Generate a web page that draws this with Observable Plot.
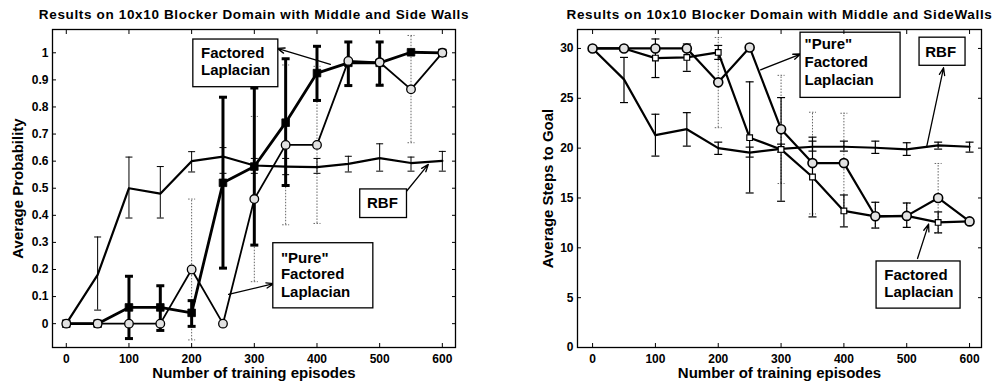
<!DOCTYPE html>
<html><head><meta charset="utf-8">
<script src="https://cdn.jsdelivr.net/npm/d3@7"></script>
<script src="https://cdn.jsdelivr.net/npm/@observablehq/plot@0.6"></script>
<style>
html,body{margin:0;padding:0;background:#fff;}
#wrap{display:flex;width:996px;height:384px;overflow:hidden;}
</style></head><body><div id="wrap"></div>
<script>
// ---------- shared ----------
const episodes = [0, 50, 100, 150, 200, 250, 300, 350, 400, 450, 500, 550, 600];
const xTicks = [0, 100, 200, 300, 400, 500, 600];
const xTickLabels = ["0", "100", "200", "300", "400", "500", "600"];
const xLabel = "Number of training episodes";

// ---------- left chart: Average Probability ----------
const leftTitle = "Results on 10x10 Blocker Domain with Middle and Side Walls";
const leftYLabel = "Average Probability";
const probTicks = [0, 0.1, 0.2, 0.3, 0.4, 0.5, 0.6, 0.7, 0.8, 0.9, 1];
const probTickLabels = ["0", "0.1", "0.2", "0.3", "0.4", "0.5", "0.6", "0.7", "0.8", "0.9", "1"];

const probRBF    = [0, 0.18, 0.50, 0.48, 0.60, 0.617, 0.584, 0.58, 0.578, 0.59, 0.611, 0.593, 0.601];
const probRBFLo  = [null, 0.05, 0.39, 0.39, 0.56, 0.555, 0.555, 0.55, 0.555, 0.56, 0.563, 0.563, 0.563];
const probRBFHi  = [null, 0.32, 0.615, 0.58, 0.635, 0.65, 0.61, 0.61, 0.61, 0.618, 0.664, 0.615, 0.636];

const probFac    = [0, 0, 0.06, 0.06, 0.04, 0.52, 0.58, 0.742, 0.925, 0.963, 0.963, 1.002, 1.0];
const probFacLo  = [null, null, -0.055, -0.025, -0.01, 0.205, 0.29, 0.51, 0.824, 0.879, 0.88, null, null];
const probFacHi  = [null, null, 0.175, 0.14, 0.085, 0.836, 0.87, 0.978, 1.024, 1.04, 1.04, null, null];

const probPure   = [0, 0, 0, 0, 0.2, 0, 0.46, 0.66, 0.66, 0.97, 0.965, 0.865, 1.0];
const probPureLo = [null, null, null, null, -0.06, null, 0.155, 0.365, 0.37, 0.88, 0.885, 0.668, null];
const probPureHi = [null, null, null, null, 0.46, null, 0.765, 0.955, 0.95, 1.04, 1.04, 1.064, null];

const leftBoxes = [
  {x1: 202.7, x2: 338.3, y1: 0.873, y2: 1.049},
  {x1: 469, x2: 543.6, y1: 0.39, y2: 0.4956},
  {x1: 330.3, x2: 489.9, y1: 0.0565, y2: 0.297}
];
const leftNotes = [
  {x: 214.9, y: 1.0, text: "Factored"},
  {x: 214.9, y: 0.937, text: "Laplacian"},
  {x: 479.8, y: 0.443, text: "RBF"},
  {x: 342.5, y: 0.2435, text: "\"Pure\""},
  {x: 342.5, y: 0.181, text: "Factored"},
  {x: 342.5, y: 0.117, text: "Laplacian"}
];
const leftArrows = [
  {x1: 421.3, y1: 0.957, x2: 336.7, y2: 1.016},
  {x1: 542.5, y1: 0.488, x2: 577.7, y2: 0.588},
  {x1: 259, y1: 0.108, x2: 330.8, y2: 0.1476}
];

// ---------- right chart: Average Steps to Goal ----------
const rightTitle = "Results on 10x10 Blocker Domain with Middle and SideWalls";
const rightYLabel = "Average Steps to Goal";
const stepTicks = [0, 5, 10, 15, 20, 25, 30];
const stepTickLabels = ["0", "5", "10", "15", "20", "25", "30"];

const stepsRBF    = [30, 26.9, 21.3, 21.9, 20.0, 19.55, 19.93, 20.14, 20.14, 20.04, 19.87, 20.27, 20.14];
const stepsRBFLo  = [null, 24.57, 19.2, 20.2, 19.37, 19.1, 19.6, 19.7, 19.7, 19.47, 19.27, 19.9, 19.6];
const stepsRBFHi  = [null, 29.1, 23.4, 23.56, 20.6, 20.1, 20.4, 20.7, 20.7, 20.7, 20.54, 20.6, 20.6];

const stepsFac    = [30, 30, 29.03, 29.1, 29.6, 21.05, 19.87, 17.1, 13.7, 13.16, 13.2, 12.55, 12.65];
const stepsFacLo  = [null, null, 27.08, 27.7, 28.9, 15.5, 14.67, 13.1, 12.1, 11.98, 12.05, 11.5, null];
const stepsFacHi  = [null, null, 30.95, 30.45, 30.3, 26.65, 25.07, 21.1, 15.3, 14.57, 14.5, 13.6, null];

const stepsPure   = [30, 30, 30, 30, 26.6, 30.1, 21.9, 18.5, 18.5, 13.16, 13.2, 15.0, 12.65];
const stepsPureLo = [null, null, null, null, 22.05, null, 16.45, 13.4, 13.5, 12.0, 12.05, 11.48, null];
const stepsPureHi = [null, null, null, null, 31.1, null, 27.3, 23.6, 23.5, 14.55, 14.45, 18.46, null];

const rightBoxes = [
  {x1: 331, x2: 490.2, y1: 25.04, y2: 31.58},
  {x1: 520.4, x2: 593.6, y1: 28.26, y2: 31.08},
  {x1: 452, x2: 585.7, y1: 3.9, y2: 8.63}
];
const rightNotes = [
  {x: 337.4, y: 30.44, text: "\"Pure\""},
  {x: 337.4, y: 28.6, text: "Factored"},
  {x: 337.4, y: 26.85, text: "Laplacian"},
  {x: 529.5, y: 29.67, text: "RBF"},
  {x: 464.2, y: 7.3, text: "Factored"},
  {x: 464.2, y: 5.52, text: "Laplacian"}
];
const rightArrows = [
  {x1: 267.4, y1: 27.86, x2: 331, y2: 29.44},
  {x1: 531.6, y1: 20.1, x2: 558.6, y2: 28.06},
  {x1: 517.2, y1: 8.93, x2: 534.8, y2: 12.38}
];

// ---------- helpers ----------
const FONT = "'Liberation Sans', Arial, Helvetica, sans-serif";
const capSymbol = {
  draw(ctx, size) { const w = Math.sqrt(size / Math.PI); ctx.moveTo(-w, 0); ctx.lineTo(w, 0); }
};
function rows(vals, lo, hi) {
  return episodes.map((x, i) => ({x, y: vals[i], lo: lo[i], hi: hi[i]}));
}
function errorBars(data, st) {
  const d = data.filter(r => r.lo != null);
  const common = {stroke: st.stroke, strokeWidth: st.width, strokeDasharray: st.dash};
  return [
    Plot.ruleX(d, {x: "x", y1: "lo", y2: "hi", ...common}),
    Plot.dot(d, {x: "x", y: "lo", symbol: capSymbol, r: st.cap, fill: "none", ...common}),
    Plot.dot(d, {x: "x", y: "hi", symbol: capSymbol, r: st.cap, fill: "none", ...common})
  ];
}
function axes(yTicks, yLabels) {
  const fmtX = d => xTickLabels[xTicks.indexOf(d)];
  const fmtY = d => yLabels[yTicks.indexOf(d)];
  const t = {fontSize: 12, fontWeight: "bold", label: null};
  return [
    Plot.axisY({anchor: "left", ticks: yTicks, tickSize: -4, tickPadding: 8, tickFormat: fmtY, ...t}),
    Plot.axisY({anchor: "right", ticks: yTicks, tickSize: -4, tickFormat: () => "", label: null}),
    Plot.axisX({anchor: "bottom", ticks: xTicks, tickSize: -4, tickPadding: 11, tickFormat: fmtX, ...t}),
    Plot.axisX({anchor: "top", ticks: xTicks, tickSize: -4, tickFormat: () => "", label: null})
  ];
}
function labels(title, yLabel, ydx) {
  return [
    Plot.text([title], {text: d => d, frameAnchor: "top", lineAnchor: "middle", dy: -15, fontSize: 13.5, fontWeight: "bold"}),
    Plot.text([xLabel], {text: d => d, frameAnchor: "bottom", lineAnchor: "middle", dy: 26, fontSize: 15, fontWeight: "bold"}),
    Plot.text([yLabel], {text: d => d, frameAnchor: "left", lineAnchor: "middle", textAnchor: "middle", rotate: -90, dx: ydx, fontSize: 15, fontWeight: "bold"})
  ];
}
function notes(boxes, texts, arrows) {
  return [
    Plot.arrow(arrows, {x1: "x1", y1: "y1", x2: "x2", y2: "y2", stroke: "black", strokeWidth: 1.3, headLength: 9, headAngle: 40}),
    Plot.rect(boxes, {x1: "x1", x2: "x2", y1: "y1", y2: "y2", fill: "white", stroke: "black", strokeWidth: 1.3}),
    Plot.text(texts, {x: "x", y: "y", text: "text", textAnchor: "start", lineAnchor: "middle", fontSize: 15, fontWeight: "bold"})
  ];
}
function finish(svg, title) {
  svg.querySelectorAll("text").forEach(t => { if (t.textContent === title) t.setAttribute("letter-spacing", "0.65"); });
  return svg;
}

// ---------- left plot ----------
const lRBF = rows(probRBF, probRBFLo, probRBFHi);
const lFac = rows(probFac, probFacLo, probFacHi);
const lPure = rows(probPure, probPureLo, probPureHi);
const left = Plot.plot({
  width: 498, height: 384,
  marginLeft: 52, marginRight: 43, marginTop: 29, marginBottom: 37,
  style: {fontFamily: FONT, color: "black", background: "white"},
  x: {domain: [-22, 621]},
  y: {domain: [-0.088, 1.086]},
  marks: [
    ...errorBars(lPure, {stroke: "#666", width: 1, dash: "1.5,1.5", cap: 3.5}),
    ...errorBars(lRBF, {stroke: "black", width: 1, dash: null, cap: 3.5}),
    ...errorBars(lFac, {stroke: "black", width: 3, dash: null, cap: 4}),
    Plot.line(lRBF, {x: "x", y: "y", stroke: "black", strokeWidth: 2.2}),
    Plot.line(lPure, {x: "x", y: "y", stroke: "black", strokeWidth: 1.8}),
    Plot.line(lFac, {x: "x", y: "y", stroke: "black", strokeWidth: 2.8}),
    Plot.dot(lFac, {x: "x", y: "y", symbol: "square", r: 4.3, fill: "black", stroke: "black", strokeWidth: 0.8}),
    Plot.dot(lPure, {x: "x", y: "y", symbol: "circle", r: 4.3, fill: "#e2e2e2", stroke: "black", strokeWidth: 1.3}),
    ...notes(leftBoxes, leftNotes, leftArrows),
    Plot.frame({stroke: "black", strokeWidth: 1.3}),
    ...axes(probTicks, probTickLabels),
    ...labels(leftTitle, leftYLabel, -34)
  ]
});

// ---------- right plot ----------
const rRBF = rows(stepsRBF, stepsRBFLo, stepsRBFHi);
const rFac = rows(stepsFac, stepsFacLo, stepsFacHi);
const rPure = rows(stepsPure, stepsPureLo, stepsPureHi);
const right = Plot.plot({
  width: 498, height: 384,
  marginLeft: 79, marginRight: 15, marginTop: 29, marginBottom: 37,
  style: {fontFamily: FONT, color: "black", background: "white"},
  x: {domain: [-24, 619]},
  y: {domain: [0, 31.9]},
  marks: [
    ...errorBars(rPure, {stroke: "#666", width: 1, dash: "1.5,1.5", cap: 3.5}),
    ...errorBars(rRBF, {stroke: "black", width: 1.2, dash: null, cap: 4}),
    ...errorBars(rFac, {stroke: "black", width: 1.2, dash: null, cap: 4}),
    Plot.line(rRBF, {x: "x", y: "y", stroke: "black", strokeWidth: 2.2}),
    Plot.line(rFac, {x: "x", y: "y", stroke: "black", strokeWidth: 2.2}),
    Plot.line(rPure, {x: "x", y: "y", stroke: "black", strokeWidth: 2.2}),
    Plot.dot(rFac, {x: "x", y: "y", symbol: "square", r: 3.2, fill: "white", stroke: "black", strokeWidth: 1.2}),
    Plot.dot(rPure, {x: "x", y: "y", symbol: "circle", r: 4.5, fill: "#e2e2e2", stroke: "black", strokeWidth: 1.6}),
    ...notes(rightBoxes, rightNotes, rightArrows),
    Plot.frame({stroke: "black", strokeWidth: 1.3}),
    ...axes(stepTicks, stepTickLabels),
    ...labels(rightTitle, rightYLabel, -29)
  ]
});

const wrap = document.getElementById("wrap");
wrap.appendChild(finish(left, leftTitle));
wrap.appendChild(finish(right, rightTitle));
</script></body></html>
